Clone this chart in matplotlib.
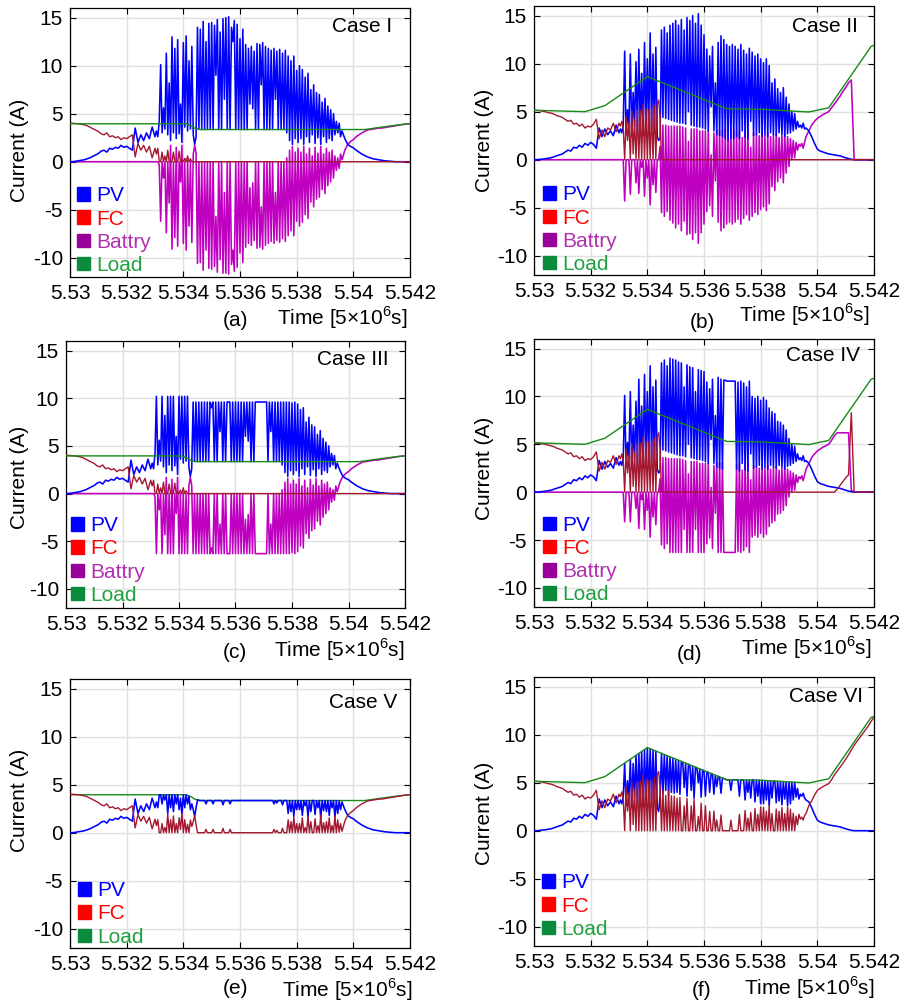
import numpy as np
import matplotlib
matplotlib.use("Agg")
import matplotlib.pyplot as plt
from matplotlib.patches import Patch

plt.rcParams['font.family'] = ['Liberation Sans', 'DejaVu Sans']
plt.rcParams['mathtext.fontset'] = 'custom'
plt.rcParams['mathtext.rm'] = 'Liberation Sans'
plt.rcParams['axes.unicode_minus'] = False

# time base [5x10^6 s]: coarse ramp, fine switching window, coarse tail
t_ramp = np.round(np.arange(5.5300, 5.53301, 0.0001), 5)     # 31
t_mid = np.round(np.arange(5.53305, 5.53961, 0.00005), 5)    # 132
t_tail = np.round(np.arange(5.5397, 5.54201, 0.0001), 5)     # 24
t = np.concatenate([t_ramp, t_mid, t_tail])

xticks = [5.530, 5.532, 5.534, 5.536, 5.538, 5.540, 5.542]
xtick_labels = ["5.53", "5.532", "5.534", "5.536", "5.538", "5.54", "5.542"]
yticks = [-10, -5, 0, 5, 10, 15]

# ---- load currents (sparse, smooth) ----
load1_t = [5.530, 5.5341, 5.5343, 5.5344, 5.5346, 5.5404, 5.541, 5.5415, 5.542]
load1 = [3.95, 3.95, 3.7, 3.5, 3.35, 3.35, 3.6, 3.8, 3.96]
load2_t = [5.530, 5.5318, 5.5325, 5.534, 5.5368, 5.538, 5.5392, 5.5397, 5.5404, 5.5419, 5.542]
load2 = [5.15, 5.0, 5.63, 8.65, 5.3, 5.25, 5.05, 4.97, 5.4, 11.8, 11.9]

# ---- start-up ramp 5.530 .. 5.533 ----
ramp4_pv = [0.0, 0.0, 0.05, 0.1, 0.15, 0.2, 0.3, 0.4, 0.55, 0.7,
            0.85, 1.1, 1.2, 1.0, 1.4, 1.3, 1.5, 1.4, 1.7, 1.5,
            1.6, 1.4, 1.2, 3.5, 2.0, 2.8, 2.2, 3.0, 2.4, 3.6,
            2.6]
ramp4_fc = [4.0, 4.0, 3.98, 3.95, 3.9, 3.85, 3.75, 3.6, 3.45, 3.3,
            3.15, 2.9, 2.8, 3.0, 2.6, 2.7, 2.5, 2.6, 2.3, 2.5,
            2.4, 2.6, 2.8, 0.5, 1.9, 1.2, 1.7, 1.0, 1.6, 0.4,
            1.4]
ramp5_pv = [0.0, 0.0, 0.03, 0.06, 0.1, 0.15, 0.2, 0.3, 0.4, 0.5,
            0.6, 0.8, 1.0, 0.9, 1.3, 1.2, 1.5, 1.3, 1.7, 1.5,
            1.8, 1.6, 1.2, 3.3, 2.4, 3.2, 2.6, 3.0, 2.5, 3.6,
            2.8]
ramp5_fc = [5.15, 5.13, 5.1, 5.05, 5.0, 4.9, 4.85, 4.75, 4.6, 4.5,
            4.4, 4.2, 4.0, 4.1, 3.7, 3.8, 3.5, 3.7, 3.3, 3.5,
            3.4, 3.7, 4.2, 2.2, 3.1, 2.4, 3.3, 3.1, 3.8, 2.9,
            3.8]
ramp_bat = [0.0] * 31

# ---- switching window 5.53305 .. 5.5396 ----
pv1_mid = ([3.2, 2.6, 4.2, 10.1, 3.0, 5.6, 3.4, 11.3, 2.8, 8.2, 2.2, 13.0, 3.0, 11.8, 2.4, 12.7, 2.9, 6.0, 2.0, 12.4]
           + [3.6, 13.1, 3.2, 10.5, 3.4, 12.0, 2.8, 1.8, 2.6, 14.0, 3.35, 13.8, 3.35, 14.6, 3.35, 12.5, 3.35, 14.4, 3.35, 14.5]
           + [3.35, 14.2, 9.0, 14.8, 3.35, 13.5, 3.35, 14.9, 6.5, 15.0, 3.35, 15.1, 3.35, 14.0, 12.5, 14.7, 3.35, 14.3, 3.35, 12.8]
           + [3.35, 13.8, 3.35, 12.2, 3.35, 11.8, 6.0, 12.0, 5.5, 11.5, 3.35, 12.3, 3.35, 12.2, 8.0, 12.4, 3.35, 12.0, 3.35, 11.8]
           + [3.35, 11.6, 3.35, 11.8, 6.5, 11.5, 3.35, 11.7, 3.35, 11.3, 3.35, 11.6, 3.0, 11.0, 2.2, 10.5, 1.8, 11.0, 2.4, 9.5]
           + [2.0, 10.0, 2.4, 9.6, 1.8, 8.8, 2.6, 9.2, 2.0, 7.5, 2.8, 8.0, 1.9, 7.2, 2.5, 7.0, 1.8, 6.2, 2.6, 6.6]
           + [2.0, 5.8, 2.4, 5.4, 2.2, 5.0, 2.8, 4.2, 3.0, 4.0, 2.6, 3.2])
bat1_mid = ([0.0, 0.0, -0.3, -6.2, 0.0, -1.7, 0.0, -7.4, 0.0, -4.3, 1.7, -9.1, 0.0, -7.9, 1.5, -8.8, 0.0, -2.1, 1.7, -8.5]
            + [0.0, -9.2, 0.1, -6.7, 0.0, -8.4, 0.8, 1.7, 0.9, -10.6, 0.0, -10.5, 0.0, -11.3, 0.0, -9.2, 0.0, -11.1, 0.0, -11.2]
            + [0.0, -10.9, -5.7, -11.5, 0.0, -10.2, 0.0, -11.6, -3.2, -11.6, 0.0, -11.7, 0.0, -10.7, -9.2, -11.4, 0.0, -11.0, 0.0, -9.5]
            + [0.0, -10.5, 0.0, -8.9, 0.0, -8.5, -2.7, -8.7, -2.2, -8.2, 0.0, -9.0, 0.0, -8.9, -4.7, -9.1, 0.0, -8.7, 0.0, -8.5]
            + [0.0, -8.3, 0.0, -8.5, -3.2, -8.2, 0.0, -8.4, 0.0, -8.0, 0.0, -8.3, 0.4, -7.7, 1.2, -7.2, 1.6, -7.7, 1.0, -6.2]
            + [1.4, -6.7, 1.0, -6.3, 1.6, -5.5, 0.8, -5.9, 1.4, -4.2, 0.6, -4.7, 1.5, -3.9, 0.9, -3.7, 1.6, -2.9, 0.8, -3.3]
            + [1.4, -2.5, 1.0, -2.1, 1.2, -1.7, 0.6, -0.9, 0.4, -0.7, 0.8, 0.2])
fc1_mid = ([0.8, 1.4, 0.0, 0.0, 1.0, 0.0, 0.6, 0.0, 1.2, 0.0, 0.0, 0.0, 1.0, 0.0, 0.0, 0.0, 1.1, 0.0, 0.2, 0.0]
           + [0.35, 0.0, 0.6, 0.0, 0.3, 0.0, 0.0, 0.0, 0.0, 0.0] + [0.0] * 102)

pv3_mid = ([3.2, 2.6, 4.2, 10.2, 3.0, 5.6, 3.4, 10.2, 2.8, 8.2, 2.2, 10.2, 3.0, 10.2, 2.4, 10.2, 2.9, 6.0, 2.0, 10.2]
           + [3.6, 10.2, 3.2, 10.2, 3.4, 10.2, 2.8, 1.8, 2.6, 9.6, 3.35, 9.6, 3.35, 9.6, 3.35, 9.6, 3.35, 9.6, 3.35, 9.6]
           + [3.35, 9.6, 9.0, 9.6, 3.35, 9.6, 3.35, 9.6, 6.5, 9.6, 3.35, 9.6, 3.35, 9.6, 9.6, 9.6, 3.35, 9.6, 3.35, 9.6]
           + [3.35, 9.6, 3.35, 9.6, 3.35, 9.6, 6.0, 9.6, 5.5, 9.6, 3.35, 9.6, 3.35, 9.6, 9.6, 9.6, 9.6, 9.6, 9.6, 9.6]
           + [9.6, 9.6, 3.35, 9.6, 6.5, 9.6, 3.35, 9.6, 3.35, 9.6, 3.35, 9.6, 3.0, 9.6, 2.2, 9.6, 1.8, 9.6, 2.4, 9.5]
           + [2.0, 9.6, 2.4, 9.4, 1.8, 8.8, 2.6, 9.0, 2.0, 7.5, 2.8, 8.0, 1.9, 7.2, 2.5, 7.0, 1.8, 6.2, 2.6, 6.6]
           + [2.0, 5.8, 2.4, 5.4, 2.2, 5.0, 2.8, 4.2, 3.0, 4.0, 2.6, 3.2])
bat3_mid = ([0.0, 0.0, -0.3, -6.3, 0.0, -1.7, 0.0, -6.3, 0.0, -4.3, 1.7, -6.3, 0.0, -6.3, 1.5, -6.3, 0.0, -2.1, 1.7, -6.3]
            + [0.0, -6.3, 0.1, -6.3, 0.0, -6.3, 0.8, 1.7, 0.9, -6.3, 0.0, -6.3, 0.0, -6.3, 0.0, -6.3, 0.0, -6.3, 0.0, -6.3]
            + [0.0, -6.3, -5.7, -6.3, 0.0, -6.3, 0.0, -6.3, -3.2, -6.3, 0.0, -6.3, 0.0, -6.3, -6.3, -6.3, 0.0, -6.3, 0.0, -6.3]
            + [0.0, -6.3, 0.0, -6.3, 0.0, -6.3, -2.7, -6.3, -2.2, -6.3, 0.0, -6.3, 0.0, -6.3, -6.3, -6.3, -6.3, -6.3, -6.3, -6.3]
            + [-6.3, -6.3, 0.0, -6.3, -3.2, -6.3, 0.0, -6.3, 0.0, -6.3, 0.0, -6.3, 0.4, -6.3, 1.2, -6.3, 1.6, -6.3, 1.0, -6.2]
            + [1.4, -6.3, 1.0, -6.1, 1.6, -5.5, 0.8, -5.7, 1.4, -4.2, 0.6, -4.7, 1.5, -3.9, 0.9, -3.7, 1.6, -2.9, 0.8, -3.3]
            + [1.4, -2.5, 1.0, -2.1, 1.2, -1.7, 0.6, -0.9, 0.4, -0.7, 0.8, 0.2])

pv2_mid = ([3.2, 2.8, 3.6, 11.3, 2.6, 5.2, 3.4, 11.0, 2.4, 7.0, 3.5, 10.2, 2.8, 11.5, 3.0, 9.0, 2.5, 12.2, 3.2, 10.5]
           + [3.4, 13.2, 3.2, 11.0, 2.8, 11.7, 2.4, 2.0, 2.2, 13.5, 4.4, 13.8, 4.3, 13.2, 4.2, 14.0, 4.1, 14.2, 4.0, 14.5]
           + [3.9, 14.0, 3.8, 14.6, 3.8, 13.5, 3.7, 14.8, 5.0, 14.5, 3.6, 15.0, 3.5, 14.2, 3.4, 15.2, 3.4, 14.0, 3.3, 13.0]
           + [3.2, 11.5, 3.0, 10.8, 5.5, 11.8, 3.0, 8.0, 2.6, 12.2, 2.5, 12.9, 2.4, 12.5, 2.2, 12.0, 2.0, 11.8, 2.2, 12.0]
           + [2.2, 11.8, 2.4, 11.5, 2.2, 12.0, 3.0, 11.4, 2.3, 11.0, 2.2, 11.6, 4.0, 11.2, 2.5, 10.8, 2.6, 11.0, 2.8, 10.5]
           + [2.4, 10.1, 2.6, 10.5, 2.4, 9.8, 2.8, 8.0, 2.6, 8.4, 2.5, 7.4, 2.8, 7.0, 2.6, 7.5, 2.4, 6.5, 2.7, 5.8]
           + [2.8, 5.0, 3.0, 4.8, 3.2, 4.0, 3.4, 3.6, 3.3, 3.8, 3.2, 3.3])
bat2_mid = ([0.0, 0.0, 0.0, -4.3, 0.0, 0.0, 0.0, -3.6, 0.0, 0.0, 0.0, -2.4, 0.0, -3.5, 0.0, -0.8, 0.0, -3.8, 0.0, -1.9]
            + [0.0, -4.7, 0.0, -2.6, 0.0, -3.4, 0.0, 0.0, 1.4, -5.5, 3.6, -5.9, 3.6, -5.4, 3.5, -6.3, 3.5, -6.6, 3.5, -7.1]
            + [3.5, -6.7, 3.5, -7.4, 3.4, -6.4, 3.3, -7.8, 1.9, -7.7, 3.2, -8.3, 3.2, -7.6, 3.2, -8.7, 3.0, -7.6, 3.0, -6.7]
            + [3.0, -5.4, 3.1, -4.8, 0.5, -5.9, 2.8, -2.2, 3.1, -6.5, 3.1, -7.4, 3.1, -7.1, 3.2, -6.7, 3.3, -6.5, 3.1, -6.7]
            + [3.1, -6.5, 2.9, -6.2, 3.1, -6.7, 2.3, -6.1, 3.0, -5.7, 3.1, -6.3, 1.3, -5.9, 2.8, -5.5, 2.7, -5.7, 2.5, -5.2]
            + [2.9, -4.9, 2.6, -5.3, 2.8, -4.6, 2.4, -2.8, 2.6, -3.2, 2.7, -2.3, 2.3, -1.9, 2.5, -2.4, 2.7, -1.4, 2.4, -0.7]
            + [2.2, 0.0, 2.0, 0.2, 1.8, 1.0, 1.6, 1.4, 1.7, 1.2, 1.8, 2.4])
fc2_mid = ([3.5, 4.0, 3.3, 0.0, 4.5, 2.0, 3.9, 0.0, 5.1, 0.6, 4.2, 0.0, 5.1, 0.0, 5.1, 0.0, 5.8, 0.0, 5.3, 0.0]
           + [5.2, 0.0, 5.3, 0.0, 5.6, 0.0, 5.8, 6.2, 4.5, 0.0] + [0.0] * 102)

pv4_mid = ([3.2, 2.8, 3.6, 10.1, 2.6, 5.2, 3.4, 10.5, 2.4, 7.0, 3.5, 9.5, 2.8, 11.8, 3.0, 9.0, 2.5, 12.3, 3.2, 10.5]
           + [3.4, 13.2, 3.2, 11.0, 2.8, 11.7, 2.4, 2.0, 2.2, 13.5, 4.4, 13.8, 4.3, 13.2, 4.2, 14.0, 4.1, 13.9, 4.0, 13.8]
           + [3.9, 13.6, 3.8, 13.5, 3.8, 11.0, 3.7, 13.3, 5.0, 13.1, 3.6, 13.0, 3.5, 10.5, 3.4, 12.8, 3.4, 12.7, 3.3, 12.6]
           + [3.2, 11.5, 3.0, 10.8, 5.5, 11.8, 3.0, 8.0, 2.6, 12.0, 2.5, 11.8, 2.4, 11.7, 11.7, 11.6, 11.6, 11.6, 11.6, 11.6]
           + [11.6, 11.6, 2.4, 11.5, 2.2, 11.6, 3.0, 11.4, 2.3, 11.0, 2.2, 11.6, 4.0, 10.0, 2.5, 9.8, 2.6, 10.0, 2.8, 9.6]
           + [2.4, 9.9, 2.6, 9.6, 2.4, 8.8, 2.8, 8.4, 2.6, 8.2, 2.5, 7.4, 2.8, 7.3, 2.6, 7.0, 2.4, 6.5, 2.7, 5.6]
           + [2.8, 5.0, 3.0, 4.8, 3.2, 4.0, 3.4, 3.6, 3.3, 3.8, 3.2, 3.3])
bat4_mid = ([0.0, 0.0, 0.0, -3.1, 0.0, 0.0, 0.0, -3.1, 0.0, 0.0, 0.0, -1.7, 0.0, -3.8, 0.0, -0.8, 0.0, -3.9, 0.0, -1.9]
            + [0.0, -4.7, 0.0, -2.6, 0.0, -3.4, 0.0, 0.0, 1.4, -5.5, 3.6, -5.9, 3.6, -5.4, 3.5, -6.3, 3.5, -6.3, 3.5, -6.3]
            + [3.5, -6.3, 3.5, -6.3, 3.4, -3.9, 3.3, -6.3, 1.9, -6.3, 3.2, -6.3, 3.2, -3.9, 3.2, -6.3, 3.0, -6.3, 3.0, -6.3]
            + [3.0, -5.4, 3.1, -4.8, 0.5, -5.9, 2.8, -2.2, 3.1, -6.3, 3.1, -6.3, 3.1, -6.3, -6.3, -6.3, -6.3, -6.3, -6.3, -6.3]
            + [-6.3, -6.3, 2.9, -6.2, 3.1, -6.3, 2.3, -6.1, 3.0, -5.7, 3.1, -6.3, 1.3, -4.7, 2.8, -4.5, 2.7, -4.7, 2.5, -4.3]
            + [2.9, -4.7, 2.6, -4.4, 2.8, -3.6, 2.4, -3.2, 2.6, -3.0, 2.7, -2.3, 2.3, -2.2, 2.5, -1.9, 2.7, -1.4, 2.4, -0.5]
            + [2.2, 0.0, 2.0, 0.2, 1.8, 1.0, 1.6, 1.4, 1.7, 1.2, 1.8, 2.4])

pv5_mid = ([3.2, 2.6, 3.95, 3.95, 3.0, 3.95, 3.4, 3.95, 2.0, 3.95, 2.6, 3.95, 2.2, 3.95, 3.0, 3.95, 2.4, 3.6, 1.9, 3.95]
           + [2.6, 3.95, 3.0, 3.8, 2.4, 3.0, 2.4, 1.7, 2.6, 3.42, 3.35, 3.35, 3.35, 3.35, 3.35, 3.0, 3.35, 3.35, 3.35, 3.35]
           + [3.0, 3.35, 3.35, 3.35, 3.35, 3.35, 3.35, 2.9, 3.35, 3.35, 3.35, 3.35, 3.0, 3.35, 3.35, 3.35, 3.35, 3.35, 3.35, 3.35]
           + [3.35] * 20
           + [3.35, 3.35, 3.35, 3.0, 3.35, 3.1, 3.35, 3.35, 3.35, 2.9, 3.35, 3.35, 3.35, 2.0, 3.35, 2.2, 3.35, 1.7, 3.35, 2.4]
           + [3.35, 2.4, 3.35, 1.8, 3.35, 2.8, 3.35, 1.6, 3.35, 2.2, 3.35, 3.35, 1.9, 3.35, 2.6, 3.35, 1.5, 3.35, 2.3, 3.35]
           + [2.2, 3.35, 1.8, 3.35, 2.6, 3.35, 1.6, 3.35, 2.0, 3.3, 2.4, 3.2])
fc5_mid = ([0.75, 1.35, 0.0, 0.0, 0.95, 0.0, 0.55, 0.0, 1.95, 0.0, 1.35, 0.0, 1.75, 0.0, 0.95, 0.0, 1.55, 0.35, 2.05, 0.0]
           + [1.35, 0.0, 0.88, 0.0, 1.32, 0.65, 1.17, 1.8, 0.85, 0.0, 0.0, 0.0, 0.0, 0.0, 0.0, 0.35, 0.0, 0.0, 0.0, 0.0]
           + [0.35, 0.0, 0.0, 0.0, 0.0, 0.0, 0.0, 0.45, 0.0, 0.0, 0.0, 0.0, 0.35, 0.0, 0.0, 0.0, 0.0, 0.0, 0.0, 0.0]
           + [0.0] * 20
           + [0.0, 0.0, 0.0, 0.35, 0.0, 0.25, 0.0, 0.0, 0.0, 0.45, 0.0, 0.0, 0.0, 1.35, 0.0, 1.15, 0.0, 1.65, 0.0, 0.95]
           + [0.0, 0.95, 0.0, 1.55, 0.0, 0.55, 0.0, 1.75, 0.0, 1.15, 0.0, 0.0, 1.45, 0.0, 0.75, 0.0, 1.85, 0.0, 1.05, 0.0]
           + [1.15, 0.0, 1.55, 0.0, 0.75, 0.0, 1.75, 0.0, 1.35, 0.05, 0.95, 0.15])

pv6_mid = ([3.2, 2.8, 3.6, 7.04, 2.6, 5.2, 3.4, 7.44, 2.4, 7.0, 3.5, 7.84, 2.8, 8.05, 3.0, 8.25, 2.5, 8.45, 3.2, 8.65]
           + [3.4, 8.53, 3.2, 8.41, 2.8, 8.29, 2.4, 2.0, 3.6, 8.05, 3.8, 7.93, 4.2, 7.81, 3.6, 7.69, 4.0, 7.57, 3.9, 7.45]
           + [4.0, 7.33, 3.8, 7.21, 7.15, 4.5, 7.03, 3.6, 6.91, 6.85, 4.2, 6.73, 3.4, 6.61, 6.55, 5.0, 6.43, 3.5, 6.31, 6.26]
           + [3.6, 6.14, 6.08, 4.0, 5.96, 5.9, 3.8, 5.78, 4.6, 5.66, 5.6, 3.9, 5.48, 5.42, 5.36, 5.3, 5.3, 5.3, 4.2, 5.3]
           + [5.3, 5.3, 5.3, 5.3, 3.6, 5.3, 5.3, 5.3, 3.2, 5.3, 4.0, 5.3, 3.4, 5.3, 5.3, 3.0, 5.3, 3.6, 5.28, 2.8]
           + [5.25, 2.8, 5.23, 3.2, 5.21, 2.6, 5.19, 3.4, 5.17, 5.16, 2.9, 5.14, 3.1, 5.12, 2.7, 5.1, 3.3, 5.08, 2.6, 5.06]
           + [2.8, 5.04, 3.2, 5.03, 3.5, 4.4, 3.3, 3.8, 3.6, 3.9, 3.4, 3.2])
fc6_mid = ([3.54, 4.04, 3.34, 0.0, 4.54, 2.04, 3.94, 0.0, 5.14, 0.64, 4.24, 0.0, 5.15, 0.0, 5.15, 0.0, 5.85, 0.0, 5.35, 0.0]
           + [5.19, 0.0, 5.27, 0.0, 5.55, 0.0, 5.83, 6.17, 4.51, 0.0, 4.19, 0.0, 3.67, 0.0, 4.15, 0.0, 3.63, 0.0, 3.61, 0.0]
           + [3.39, 0.0, 3.47, 0.0, 0.0, 2.59, 0.0, 3.37, 0.0, 0.0, 2.59, 0.0, 3.27, 0.0, 0.0, 1.49, 0.0, 2.87, 0.0, 0.0]
           + [2.6, 0.0, 0.0, 2.02, 0.0, 0.0, 2.04, 0.0, 1.12, 0.0, 0.0, 1.64, 0.0, 0.0, 0.0, 0.0, 0.0, 0.0, 1.1, 0.0]
           + [0.0, 0.0, 0.0, 0.0, 1.7, 0.0, 0.0, 0.0, 2.1, 0.0, 1.3, 0.0, 1.9, 0.0, 0.0, 2.3, 0.0, 1.7, 0.0, 2.48]
           + [0.0, 2.44, 0.0, 2.02, 0.0, 2.6, 0.0, 1.78, 0.0, 0.0, 2.25, 0.0, 2.03, 0.0, 2.41, 0.0, 1.79, 0.0, 2.47, 0.0]
           + [2.24, 0.0, 1.83, 0.0, 1.52, 0.62, 1.71, 1.21, 1.41, 1.1, 1.59, 1.78])

# ---- tail 5.5397 .. 5.542 ----
pv_tail4 = [2.4, 1.8, 1.6, 1.45, 1.2, 1.0, 0.8, 0.65, 0.5, 0.4, 0.3, 0.25,
            0.2, 0.15, 0.1, 0.07, 0.04, 0.02, 0.0, 0.0, 0.0, 0.0, 0.0, 0.0]
supply_tail4 = [1.2, 1.8, 2.1, 2.3, 2.6, 2.8, 3.0, 3.15, 3.3, 3.35, 3.4, 3.45,
                3.5, 3.5, 3.55, 3.6, 3.65, 3.7, 3.75, 3.8, 3.85, 3.9, 3.93, 3.96]
pv_tail5 = [3.0, 2.4, 1.7, 1.1, 0.9, 0.8, 0.7, 0.6, 0.55, 0.5, 0.45, 0.4,
            0.3, 0.2, 0.12, 0.04, 0.0, 0.0, 0.0, 0.0, 0.0, 0.0, 0.0, 0.0]
bat_tail2 = [3.0, 3.6, 4.0, 4.3, 4.5, 4.7, 4.85, 5.0, 5.4, 5.8, 6.2, 6.6,
             7.1, 7.5, 8.0, 8.3, 0.0, 0.0, 0.0, 0.0, 0.0, 0.0, 0.0, 0.0]
bat_tail4 = [3.0, 3.6, 4.0, 4.3, 4.5, 4.7, 4.85, 5.0, 5.4, 5.9, 6.2, 6.2,
             6.2, 6.2, 6.2, 0.2, 0.0, 0.0, 0.0, 0.0, 0.0, 0.0, 0.0, 0.0]
fc_tail4 = [0.0, 0.0, 0.0, 0.0, 0.0, 0.0, 0.0, 0.0, 0.0, 0.0, 0.3, 0.7,
            1.1, 1.5, 1.8, 8.3, 0.0, 0.0, 0.0, 0.0, 0.0, 0.0, 0.0, 0.0]
fc_tail6 = [2.6, 3.1, 3.7, 4.2, 4.4, 4.6, 4.75, 4.9, 5.3, 5.8, 6.2, 6.6,
            7.0, 7.45, 7.9, 8.4, 8.9, 9.3, 9.7, 10.1, 10.5, 10.9, 11.4, 11.8]
zero_tail = [0.0] * 24

# name, tag, pv, fc, battery, load time, load, load drawn under PV
cases = [
    ("Case I", "(a)", ramp4_pv + pv1_mid + pv_tail4, ramp4_fc + fc1_mid + zero_tail,
     ramp_bat + bat1_mid + supply_tail4, load1_t, load1, False),
    ("Case II", "(b)", ramp5_pv + pv2_mid + pv_tail5, ramp5_fc + fc2_mid + zero_tail,
     ramp_bat + bat2_mid + bat_tail2, load2_t, load2, False),
    ("Case III", "(c)", ramp4_pv + pv3_mid + pv_tail4, ramp4_fc + fc1_mid + zero_tail,
     ramp_bat + bat3_mid + supply_tail4, load1_t, load1, False),
    ("Case IV", "(d)", ramp5_pv + pv4_mid + pv_tail5, ramp5_fc + fc2_mid + fc_tail4,
     ramp_bat + bat4_mid + bat_tail4, load2_t, load2, False),
    ("Case V", "(e)", ramp4_pv + pv5_mid + pv_tail4, ramp4_fc + fc5_mid + supply_tail4,
     None, load1_t, load1, True),
    ("Case VI", "(f)", ramp5_pv + pv6_mid + pv_tail5, ramp5_fc + fc6_mid + fc_tail6,
     None, load2_t, load2, False),
]

# layout in pixels: axes box (l, t, r, b), y-label centre, tag centre, time label (right, y),
# case label position (axes frac), legend anchor (axes frac)
layout = [
    ((70, 8, 410, 277), (20, 150), (235, 320), (408, 318), (0.947, 0.933), (0.02, 0.008)),
    ((534, 6, 874, 275), (485, 140), (702, 322), (870, 315), (0.953, 0.922), (0.026, 0.004)),
    ((66, 341, 405, 608), (20, 477), (235, 653), (405, 650), (0.953, 0.929), (0.015, 0.012)),
    ((534, 339, 874, 607), (485, 468), (690, 655), (872, 648), (0.959, 0.937), (0.026, 0.01)),
    ((70, 679, 410, 948), (20, 800), (235, 988), (413, 990), (0.962, 0.914), (0.024, 0.005)),
    ((534, 677, 874, 946), (485, 813), (702, 990), (875, 988), (0.968, 0.926), (0.023, 0.027)),
]

C_PV, C_FC, C_BAT, C_LOAD = '#0000ff', '#a3182f', '#c000c0', '#178a17'
FS = 15

W, H = 902, 1006
fig = plt.figure(figsize=(W / 100, H / 100), dpi=100)


def fx(x):
    return x / W


def fy(y):
    return 1 - y / H


for (name, tag, pv, fc, bat, lt, ld, load_under), (box, ylab, tagxy, timexy, casexy, legxy) in zip(cases, layout):
    l, tp, r, b = box
    ax = fig.add_axes([fx(l), fy(b), (r - l) / W, (b - tp) / H])
    ax.plot(lt, ld, color=C_LOAD, lw=1.0, zorder=2 if load_under else 6)
    if bat is not None:
        ax.plot(t, bat, color=C_BAT, lw=1.15, zorder=3)
    ax.plot(t, pv, color=C_PV, lw=1.15, zorder=4)
    ax.plot(t, fc, color=C_FC, lw=1.0, zorder=5)

    ax.set_xlim(5.530, 5.542)
    ax.set_ylim(-12, 16)
    ax.set_xticks(xticks)
    ax.set_xticklabels(xtick_labels)
    ax.set_yticks(yticks)
    ax.grid(True, color='#e0e0e0', lw=1.0)
    ax.set_axisbelow(True)
    ax.tick_params(direction='in', length=4, width=0.8, top=True, right=True,
                   labelsize=FS, pad=5)
    for s in ax.spines.values():
        s.set_linewidth(0.9)

    ax.text(casexy[0], casexy[1], name, transform=ax.transAxes, ha='right',
            va='center', fontsize=FS)

    handles = [Patch(facecolor=C_PV, edgecolor=C_PV), Patch(facecolor='#ff0000', edgecolor='#ff0000')]
    labels = ['PV', 'FC']
    colors = ['#0000ff', '#ff0000']
    if bat is not None:
        handles.append(Patch(facecolor='#990099', edgecolor='#990099'))
        labels.append('Battry')
        colors.append('#b030b0')
    handles.append(Patch(facecolor='#0a8c3c', edgecolor='#0a8c3c'))
    labels.append('Load')
    colors.append('#20a040')
    ax.legend(handles, labels, loc='lower left', bbox_to_anchor=legxy, frameon=False,
              fontsize=FS, handlelength=0.62, handleheight=0.62, handletextpad=0.3,
              labelspacing=0.2, borderpad=0, borderaxespad=0, labelcolor=colors)

    fig.text(fx(ylab[0]), fy(ylab[1]), 'Current (A)', rotation=90, ha='center',
             va='center', fontsize=FS)
    fig.text(fx(tagxy[0]), fy(tagxy[1]), tag, ha='center', va='center', fontsize=FS)
    fig.text(fx(timexy[0]), fy(timexy[1]), 'Time [5\u00d710$^{6}$s]', ha='right',
             va='center', fontsize=FS)

fig.savefig('out.png', dpi=100)
